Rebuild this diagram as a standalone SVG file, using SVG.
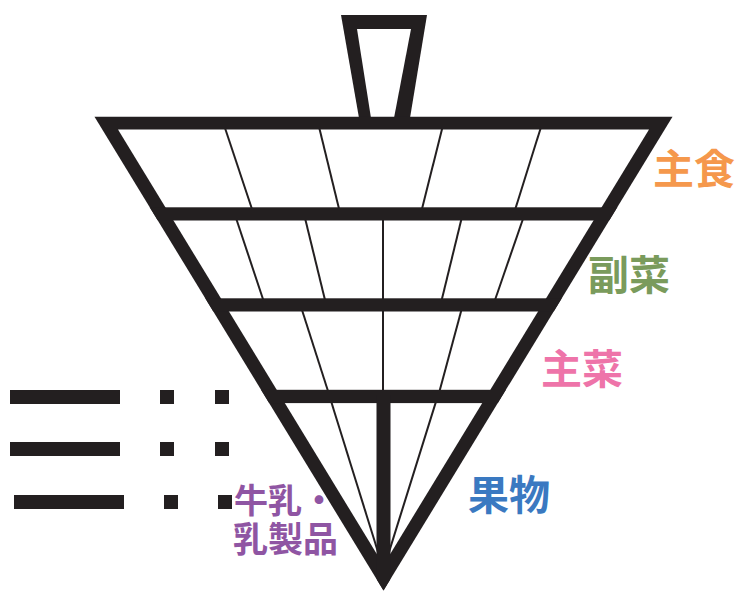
<svg xmlns="http://www.w3.org/2000/svg" width="736" height="591" viewBox="0 0 736 591">
<style>
.ink{fill:#231f20}
.thin{stroke:#231f20;stroke-width:2;fill:none}
.lbl{font-family:"Noto Sans CJK JP","Noto Sans CJK SC",sans-serif;font-weight:700}
</style>
<defs>
<clipPath id="outer"><polygon points="94.5,116.7 672.5,116.7 383.5,590.5"/></clipPath>
</defs>
<rect width="736" height="591" fill="#fff"/>
<g id="handle">
<polygon class="ink" points="341,15 427,15 410,118 359,118"/>
<polygon fill="#fff" points="357,29 411,29 394,118 371,118"/>
</g>
<g id="top-body">
<polygon class="ink" points="94.5,116.7 672.5,116.7 383.5,590.5"/>
<polygon fill="#fff" points="118,129.5 649,129.5 383.5,565"/>
</g>
<g id="connectors">
<line class="thin" x1="225" y1="128" x2="252.3" y2="210"/>
<line class="thin" x1="319.3" y1="128" x2="339.3" y2="210"/>
<line class="thin" x1="442.3" y1="128" x2="421.7" y2="210"/>
<line class="thin" x1="540.7" y1="128" x2="515" y2="210"/>
<line class="thin" x1="236" y1="218" x2="263.3" y2="300"/>
<line class="thin" x1="305" y1="218" x2="325" y2="300"/>
<line class="thin" x1="383" y1="218" x2="383" y2="300"/>
<line class="thin" x1="461.7" y1="218" x2="441.7" y2="300"/>
<line class="thin" x1="523.3" y1="218" x2="495" y2="300"/>
<line class="thin" x1="301.7" y1="309" x2="328.3" y2="392"/>
<line class="thin" x1="383" y1="309" x2="383" y2="392"/>
<line class="thin" x1="461.7" y1="309" x2="439.3" y2="392"/>
<line class="thin" x1="330.7" y1="400" x2="378" y2="552"/>
<line class="thin" x1="436.5" y1="400" x2="389" y2="552"/>
</g>
<g id="bars" clip-path="url(#outer)">
<rect class="ink" x="90" y="207.3" width="590" height="13.2"/>
<rect class="ink" x="90" y="298.3" width="590" height="13.2"/>
<rect class="ink" x="90" y="389.8" width="590" height="13.3"/>
<rect class="ink" x="376.5" y="395" width="14" height="200"/>
</g>
<g id="shushoku"><text class="lbl" x="653" y="183.5" font-size="41" fill="#f5984c">主食</text></g>
<g id="fukusai"><text class="lbl" x="588" y="289.5" font-size="41" fill="#7a9b5c">副菜</text></g>
<g id="shusai"><text class="lbl" x="541" y="383.5" font-size="41" fill="#ee74a9">主菜</text></g>
<g id="kudamono"><text class="lbl" x="468" y="509.5" font-size="41" fill="#3a79c1">果物</text></g>
<g id="dairy">
<text class="lbl" font-size="34" fill="#8f55a3"><tspan x="234" y="513">牛乳・</tspan><tspan x="233" y="552" font-size="35">乳製品</tspan></text>
</g>
<g id="legend">
<rect class="ink" x="10" y="390" width="110" height="14"/>
<rect class="ink" x="160" y="390" width="14" height="14"/>
<rect class="ink" x="215" y="390" width="14" height="14"/>
<rect class="ink" x="10" y="442" width="110" height="14"/>
<rect class="ink" x="160" y="442" width="14" height="14"/>
<rect class="ink" x="215" y="442" width="14" height="14"/>
<rect class="ink" x="14" y="495" width="110" height="14"/>
<rect class="ink" x="164" y="495" width="14" height="14"/>
<rect class="ink" x="218" y="495" width="14" height="14"/>
</g>
</svg>
